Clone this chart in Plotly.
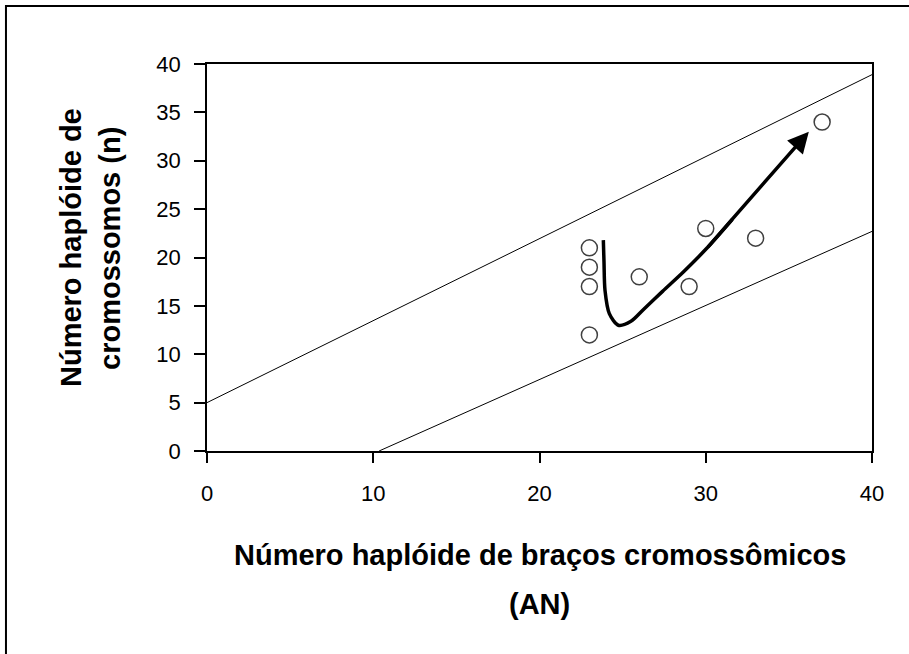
import plotly.graph_objects as go

# Data
an_values = [23, 23, 23, 23, 26, 29, 30, 33, 37]
n_values = [21, 19, 17, 12, 18, 17, 23, 22, 34]

upper_line_x = [0, 40]
upper_line_y = [5, 38.9]
lower_line_x = [10.35, 40]
lower_line_y = [0, 22.7]

trend_x = [23.84, 23.88, 23.94, 24.2, 24.74, 25.5, 26.24, 27.4, 28.65, 30.06, 31.6]
trend_y = [21.8, 19.5, 16.6, 14.2, 13.0, 13.4, 14.6, 16.5, 18.5, 20.95, 23.95]
arrow_tip = (36.2, 33.0)

x_ticks = [0, 10, 20, 30, 40]
y_ticks = [0, 5, 10, 15, 20, 25, 30, 35, 40]

x_title_lines = ["Número haplóide de braços cromossômicos", "(AN)"]
y_title_lines = ["Número haplóide de", "cromossomos (n)"]

fig = go.Figure()

fig.add_trace(go.Scatter(x=upper_line_x, y=upper_line_y, mode="lines",
                         line=dict(color="black", width=1), showlegend=False))
fig.add_trace(go.Scatter(x=lower_line_x, y=lower_line_y, mode="lines",
                         line=dict(color="black", width=1), showlegend=False))
fig.add_trace(go.Scatter(x=trend_x, y=trend_y, mode="lines",
                         line=dict(color="black", width=3.5, shape="spline", smoothing=0.8),
                         showlegend=False))
fig.add_trace(go.Scatter(x=an_values, y=n_values, mode="markers",
                         marker=dict(symbol="circle-open", size=16,
                                     color="#404040", line=dict(width=1.5, color="#404040")),
                         showlegend=False))

fig.add_annotation(x=arrow_tip[0], y=arrow_tip[1], ax=trend_x[-2], ay=trend_y[-2],
                   xref="x", yref="y", axref="x", ayref="y", text="",
                   showarrow=True, arrowhead=2, arrowsize=1.2, arrowwidth=3.5,
                   arrowcolor="black", standoff=0, startstandoff=0)

title_font = dict(family="Liberation Sans, Arial, sans-serif", size=29, color="black", weight="bold")

fig.add_annotation(x=0.5, y=-0.2687, xref="paper", yref="paper", text=x_title_lines[0],
                   showarrow=False, font=title_font, xanchor="center", yanchor="middle")
fig.add_annotation(x=0.5, y=-0.395, xref="paper", yref="paper", text=x_title_lines[1],
                   showarrow=False, font=title_font, xanchor="center", yanchor="middle")
fig.add_annotation(x=-0.2045, y=0.5245, xref="paper", yref="paper", text=y_title_lines[0],
                   showarrow=False, font=title_font, textangle=-90,
                   xanchor="center", yanchor="middle")
fig.add_annotation(x=-0.1459, y=0.5245, xref="paper", yref="paper", text=y_title_lines[1],
                   showarrow=False, font=title_font, textangle=-90,
                   xanchor="center", yanchor="middle")

# outer frame
fig.add_shape(type="rect", xref="paper", yref="paper",
              x0=-0.3023, x1=1.08, y0=-0.6, y1=1.1499,
              line=dict(color="black", width=2))

tick_font = dict(family="Liberation Sans, Arial, sans-serif", size=22, color="black")

fig.update_xaxes(range=[0, 40], tickvals=x_ticks, ticks="outside", ticklen=10,
                 tickwidth=1.5, tickcolor="black", showline=True, linecolor="black",
                 linewidth=1.5, mirror=True, showgrid=False, zeroline=False,
                 tickfont=tick_font, ticklabelstandoff=12)
fig.update_yaxes(range=[0, 40], tickvals=y_ticks, ticks="outside", ticklen=11,
                 tickwidth=1.5, tickcolor="black", showline=True, linecolor="black",
                 linewidth=1.5, mirror=True, showgrid=False, zeroline=False,
                 tickfont=tick_font, ticklabelstandoff=9)

fig.update_layout(width=909, height=654, margin=dict(l=207, r=37, t=64, b=203),
                  plot_bgcolor="white", paper_bgcolor="white")

fig.write_html("out.html", config={"displayModeBar": False},
               post_script="document.body.style.margin='0px';document.body.style.overflow='hidden';")
